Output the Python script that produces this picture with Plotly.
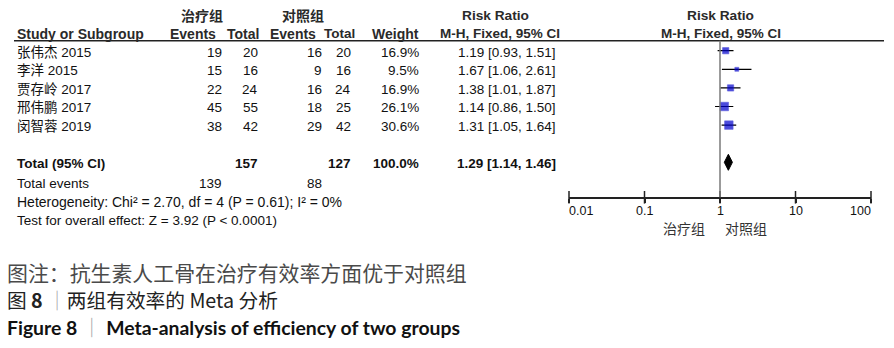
import math
import plotly.graph_objects as go

# ---------------- data ----------------
studies = ["张伟杰 2015", "李洋 2015", "贾存岭 2017", "邢伟鹏 2017", "闵智蓉 2019"]
exp_events = [19, 15, 22, 45, 38]
exp_total = [20, 16, 24, 55, 42]
ctl_events = [16, 9, 16, 18, 29]
ctl_total = [20, 16, 24, 25, 42]
weights = [16.9, 9.5, 16.9, 26.1, 30.6]
rr = [1.19, 1.67, 1.38, 1.14, 1.31]
ci_low = [0.93, 1.06, 1.01, 0.86, 1.05]
ci_high = [1.51, 2.61, 1.87, 1.50, 1.64]

total_exp_n, total_ctl_n = 157, 127
total_exp_ev, total_ctl_ev = 139, 88
total_weight = 100.0
total_rr, total_lo, total_hi = 1.29, 1.14, 1.46
heterogeneity = "Heterogeneity: Chi² = 2.70, df = 4 (P = 0.61); I² = 0%"
overall = "Test for overall effect: Z = 3.92 (P < 0.0001)"

tick_vals = [0.01, 0.1, 1, 10, 100]
tick_text = ["0.01", "0.1", "1", "10", "100"]
favours = ["治疗组", "对照组"]

note = "图注：抗生素人工骨在治疗有效率方面优于对照组"
title_cn = "图 <b>8</b> <span style='color:#aaaaaa'>｜</span>两组有效率的 Meta 分析"
title_en = "<b>Figure 8 <span style='color:#aaaaaa'>｜</span> Meta-analysis of efficiency of two groups</b>"

# ---------------- layout helpers ----------------
W, H = 894, 348
ROW0, ROWH = 50.7, 18.6
def rpx(y):
    return (y - ROW0) / ROWH

TOTAL_ROW = 6
FONT = "Arial, Liberation Sans, Noto Sans CJK SC, sans-serif"
TXT = "#111111"
HDR = "#2a2a2a"
TOFF = 0.07
BS = 13.5  # body font size
HS = 14    # header font size

fig = go.Figure()

# forest: CI lines
for i in range(len(studies)):
    fig.add_trace(go.Scatter(x=[ci_low[i], ci_high[i]], y=[i, i], mode="lines",
                             line=dict(color="black", width=1.2),
                             xaxis="x2", yaxis="y2", hoverinfo="skip", showlegend=False))
# squares
sizes = [min(8.5, 0.9 + 0.32 * w) for w in weights]
fig.add_trace(go.Scatter(x=rr, y=list(range(len(studies))), mode="markers",
                         marker=dict(symbol="square", size=sizes, color="#0000cc",
                                     line=dict(color="#1a1ad0", width=0.6)),
                         xaxis="x2", yaxis="y2", showlegend=False, cliponaxis=False))
# diamond
dh = 0.43
fig.add_trace(go.Scatter(x=[total_lo, total_rr, total_hi, total_rr, total_lo],
                         y=[TOTAL_ROW, TOTAL_ROW - dh, TOTAL_ROW, TOTAL_ROW + dh, TOTAL_ROW],
                         mode="lines", fill="toself", fillcolor="black",
                         line=dict(color="black", width=1),
                         xaxis="x2", yaxis="y2", showlegend=False, hoverinfo="skip"))
# crossing tick marks on the axis
axis_y_px = 197.3
top_y_px = 40.7
fig.add_trace(go.Scatter(x=tick_vals, y=[rpx(axis_y_px)] * len(tick_vals), mode="markers",
                         marker=dict(symbol="line-ns", size=9, line=dict(color="#222", width=1.5)),
                         xaxis="x2", yaxis="y2", showlegend=False, cliponaxis=False, hoverinfo="skip"))

ann = []
def T(x, y, text, anchor="left", size=BS, bold=False, color=TXT, xref="x", family=FONT):
    if bold:
        text = "<b>" + text + "</b>"
    ann.append(dict(x=x, y=y, xref=xref, yref="y", text=text, showarrow=False,
                    xanchor=anchor, yanchor="middle", borderpad=0, borderwidth=0,
                    font=dict(size=size, color=color, family=family)))

# column right edges (pixels)
C_EE, C_ET, C_CE, C_CT, C_W, C_RR = 222, 258, 322, 351, 419, 556

# headers
h1 = rpx(15.5)
h2 = rpx(33.5)
T(202, h1, "治疗组", "center", 14, True, HDR)
T(303, h1, "对照组", "center", 14, True, HDR)
T(495, h1, "Risk Ratio", "center", 13.7, True, HDR)
T(720, h1, "Risk Ratio", "center", 13.7, True, HDR)
T(17, h2, "Study or Subgroup", "left", HS, True, HDR)
T(216, h2, "Events", "right", HS, True, HDR)
T(259, h2, "Total", "right", HS, True, HDR)
T(316, h2, "Events", "right", HS, True, HDR)
T(355, h2, "Total", "right", 13.5, True, HDR)
T(419, h2, "Weight", "right", HS, True, HDR)
T(500, h2, "M-H, Fixed, 95% CI", "center", 13.5, True, HDR)
T(721, h2, "M-H, Fixed, 95% CI", "center", 13.5, True, HDR)

# study rows
for i, s in enumerate(studies):
    y = i + TOFF
    T(17, y, s)
    T(C_EE, y, str(exp_events[i]), "right")
    T(C_ET, y, str(exp_total[i]), "right")
    T(C_CE, y, str(ctl_events[i]), "right")
    T(C_CT, y, str(ctl_total[i]), "right")
    T(C_W, y, f"{weights[i]:.1f}%", "right")
    T(C_RR, y, f"{rr[i]:.2f} [{ci_low[i]:.2f}, {ci_high[i]:.2f}]", "right")

# total rows
y = TOTAL_ROW + TOFF
T(17, y, "Total (95% CI)", "left", BS, True)
T(C_ET, y, str(total_exp_n), "right", BS, True)
T(C_CT, y, str(total_ctl_n), "right", BS, True)
T(C_W, y, f"{total_weight:.1f}%", "right", BS, True)
T(C_RR, y, f"{total_rr:.2f} [{total_lo:.2f}, {total_hi:.2f}]", "right", BS, True)
y = rpx(183.5)
T(17, y, "Total events")
T(C_EE, y, str(total_exp_ev), "right")
T(C_CE, y, str(total_ctl_ev), "right")
T(17, rpx(201.5), heterogeneity, "left", 14)
T(17, rpx(220), overall)

# axis tick labels (ends kept inside the axis, as in RevMan)
for k, (v, t) in enumerate(zip(tick_vals, tick_text)):
    anchor = "left" if k == 0 else ("right" if k == len(tick_vals) - 1 else "center")
    T(math.log10(v), rpx(211), t, anchor, 12.5, False, TXT, xref="x2")

# favours labels
T(684, rpx(229), favours[0], "center", 14, False, "#333")
T(746, rpx(229), favours[1], "center", 14, False, "#333")

# captions
CJK = "Noto Sans CJK SC, sans-serif"
T(7, rpx(271.5), note, "left", 20.9, False, "#4a4a4a", family=CJK)
T(7, rpx(299.5), title_cn, "left", 19.7, False, "#222", family=CJK)
T(7, rpx(327.5), title_en, "left", 19.4, False, "#111", family="Lato, Noto Sans CJK SC, sans-serif")

shapes = [
    dict(type="line", xref="x", yref="y", x0=14, x1=884, y0=rpx(top_y_px), y1=rpx(top_y_px),
         line=dict(color="#222", width=1.5)),
    dict(type="line", xref="x2", yref="y2 domain", x0=1, x1=1, y0=0, y1=1,
         line=dict(color="#7a7a7a", width=1.5)),
]

fig.update_layout(
    width=W, height=H, margin=dict(l=0, r=0, t=0, b=0),
    paper_bgcolor="white", plot_bgcolor="rgba(0,0,0,0)",
    showlegend=False,
    xaxis=dict(range=[0, W], domain=[0, 1], visible=False, fixedrange=True),
    yaxis=dict(range=[rpx(H), rpx(0)], domain=[0, 1], visible=False, fixedrange=True),
    xaxis2=dict(type="log", range=[-2, 2], domain=[569 / W, 871 / W], anchor="y2",
                showgrid=False, zeroline=False, showline=True, linecolor="#222", linewidth=1.5,
                ticks="outside", ticklen=4, tickwidth=1.5, tickcolor="#222",
                tickvals=tick_vals, showticklabels=False),
    yaxis2=dict(range=[rpx(axis_y_px), rpx(top_y_px)], domain=[1 - axis_y_px / H, 1 - top_y_px / H],
                anchor="x2", visible=False),
    annotations=ann, shapes=shapes,
)

fig.write_html("out.html")
